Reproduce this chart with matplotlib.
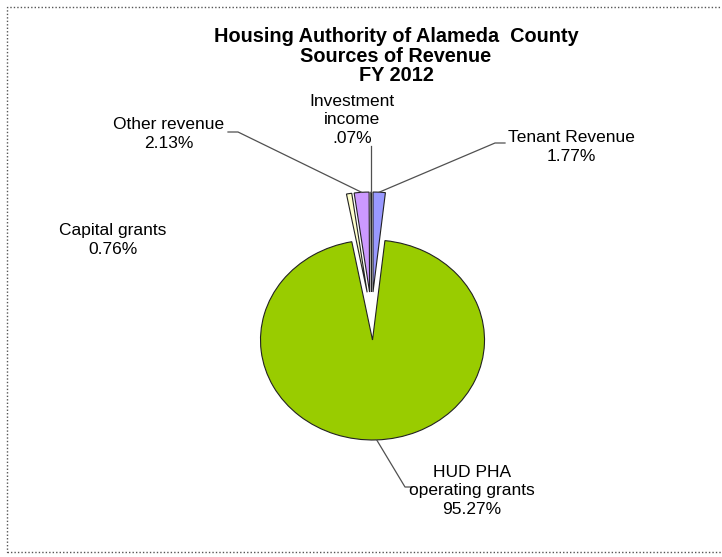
import numpy as np
import matplotlib
matplotlib.use('Agg')
import matplotlib.pyplot as plt
from matplotlib.patches import Rectangle

# Datos (orden de Excel: sentido horario desde las 12)
categorias = ['Tenant Revenue', 'HUD PHA\noperating grants', 'Capital grants',
              'Other revenue', 'Investment\nincome']
porcentajes = [1.77, 95.27, 0.76, 2.13, 0.07]
textos_pct = ['1.77%', '95.27%', '0.76%', '2.13%', '.07%']
colores = ['#9999FF', '#99CC00', '#FFFFCC', '#CC99FF', '#5A5AB0']

titulo = 'Housing Authority of Alameda  County\nSources of Revenue\nFY 2012'

# Lienzo en pixeles
W, H = 722, 557
RX, RY = 112, 100          # radios del pastel en px (imagen algo estirada)
centro_px = (371.5, 316)

plt.rcParams['font.family'] = ['Liberation Sans', 'DejaVu Sans']

fig = plt.figure(figsize=(W / 100, H / 100), dpi=100)
ax = fig.add_axes([0, 0, 1, 1])


def px2data(x, y):
    return x / RX, (H - y) / RY


cx, cy = px2data(*centro_px)
wedges, _ = ax.pie(porcentajes, colors=colores, startangle=90, counterclock=False,
                   explode=[0.24] * len(porcentajes), center=(cx, cy), radius=1,
                   wedgeprops=dict(edgecolor='#222222', linewidth=0.8))
ax.set_aspect('auto')
ax.set_xlim(0, W / RX)
ax.set_ylim(0, H / RY)
ax.axis('off')


def punto_arco(w):
    th = np.deg2rad((w.theta1 + w.theta2) / 2)
    return w.center[0] + w.r * np.cos(th), w.center[1] + w.r * np.sin(th)


# Etiquetas: (indice, centro del texto en px, recorrido de la guia en px)
etiquetas = [
    (0, (571, 147), [(495, 143), (505, 143)]),
    (1, (472, 491), [(405, 487), (412, 487)]),
    (2, (113, 240), None),
    (3, (169, 134), [(238, 132), (228, 132)]),
    (4, (352, 120), 'vertical'),
]

for i, (tx, ty), guia in etiquetas:
    fig.text(tx / W, 1 - ty / H, f'{categorias[i]}\n{textos_pct[i]}',
             ha='center', va='center', fontsize=12.5, linespacing=1.28, color='black')
    if guia is None:
        continue
    x0, y0 = punto_arco(wedges[i])
    if guia == 'vertical':
        pts = [(x0, y0), (x0, px2data(0, 146)[1])]
    else:
        pts = [(x0, y0)] + [px2data(*p) for p in guia]
    xs, ys = zip(*pts)
    ax.plot(xs, ys, color='#505050', linewidth=0.9)

fig.text(396 / W, 1 - 56 / H, titulo, ha='center', va='center',
         fontsize=14.3, fontweight='bold', linespacing=1.05)

# Marco punteado del area del grafico
marco = Rectangle((7 / W, 5 / H), 1.0, (552 - 7) / H, transform=fig.transFigure,
                  fill=False, edgecolor='#555555', linewidth=1, linestyle=(0, (1, 1.5)))
fig.add_artist(marco)

fig.savefig('out.png', dpi=100)
